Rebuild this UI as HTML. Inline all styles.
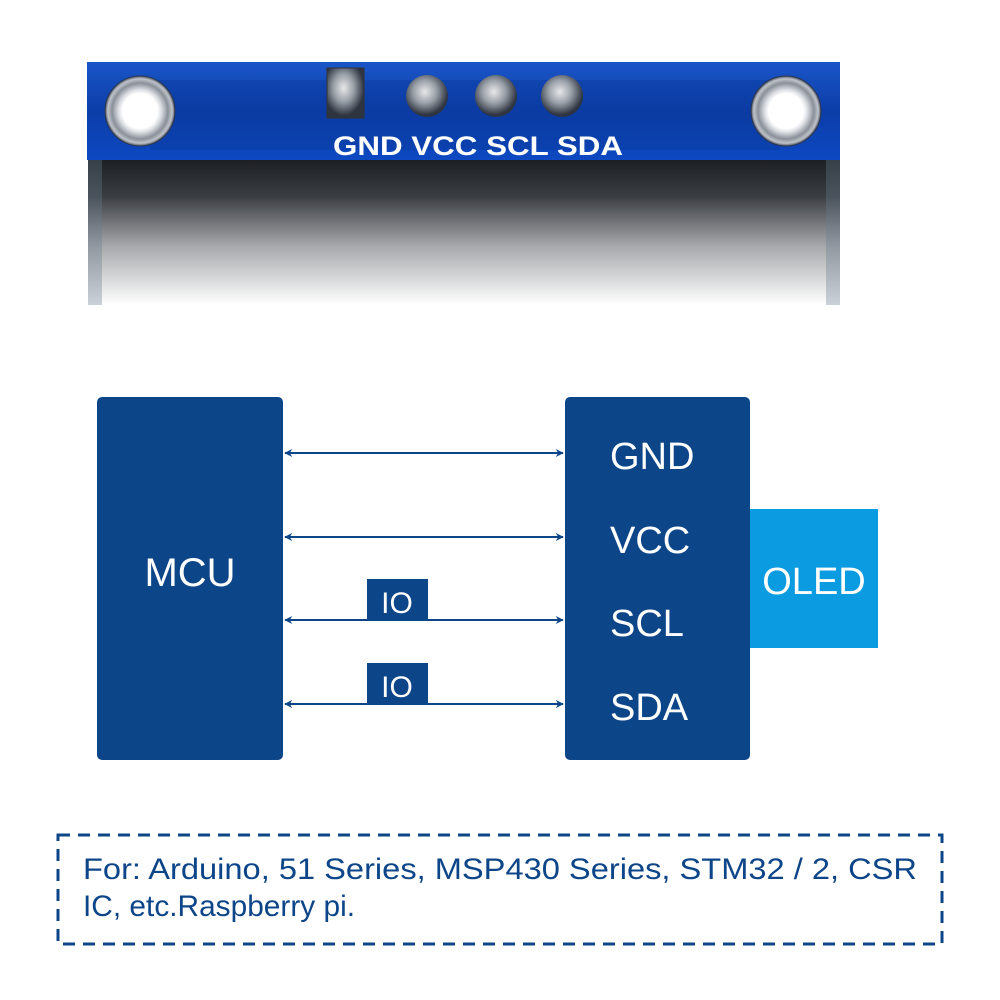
<!DOCTYPE html>
<html><head><meta charset="utf-8"><style>
html,body{margin:0;padding:0;background:#fff;}
svg{display:block;font-family:"Liberation Sans",sans-serif;}
</style></head><body>
<svg width="1000" height="1000" viewBox="0 0 1000 1000" xmlns="http://www.w3.org/2000/svg">
<defs>
<linearGradient id="scr" x1="0" y1="0" x2="0" y2="1">
<stop offset="0" stop-color="#1c1f24"/>
<stop offset="0.25" stop-color="#3a3d42"/>
<stop offset="0.6" stop-color="#a8aaad"/>
<stop offset="1" stop-color="#ffffff"/>
</linearGradient>
<linearGradient id="pcb" x1="0" y1="0" x2="0" y2="1">
<stop offset="0" stop-color="#1a56c8"/>
<stop offset="0.5" stop-color="#0c3da8"/>
<stop offset="1" stop-color="#0d49c2"/>
</linearGradient>
<radialGradient id="hole" cx="0.5" cy="0.5" r="0.5">
<stop offset="0.5" stop-color="#ffffff"/>
<stop offset="0.62" stop-color="#d8dbe0"/>
<stop offset="0.8" stop-color="#8a9099"/>
<stop offset="0.92" stop-color="#c0c4ca"/>
<stop offset="1" stop-color="#4a505c"/>
</radialGradient>
<radialGradient id="pin" cx="0.45" cy="0.4" r="0.55">
<stop offset="0" stop-color="#e8e8ea"/>
<stop offset="0.5" stop-color="#9aa0a8"/>
<stop offset="1" stop-color="#2e3440"/>
</radialGradient>
<marker id="ah" viewBox="0 0 10 10" refX="9" refY="5" markerWidth="10" markerHeight="8" markerUnits="userSpaceOnUse" orient="auto-start-reverse">
<path d="M0,0 L10,5 L0,10 L3,5 Z" fill="#0d4589"/>
</marker>
</defs>
<rect x="88" y="160" width="752" height="145" fill="url(#scr)"/>
<rect x="88" y="160" width="14" height="145" fill="#6b7a90" opacity="0.35"/>
<rect x="826" y="160" width="14" height="145" fill="#6b7a90" opacity="0.35"/>
<rect x="87" y="62" width="753" height="98" fill="url(#pcb)"/>
<rect x="150" y="80" width="630" height="70" fill="#0a3a9c" opacity="0.4"/>
<circle cx="140" cy="111" r="35" fill="url(#hole)" stroke="#2a3550" stroke-width="1"/>
<circle cx="786" cy="111" r="35" fill="url(#hole)" stroke="#2a3550" stroke-width="1"/>
<rect x="327" y="68" width="37" height="50" fill="url(#pin)" stroke="#333" stroke-width="1"/>
<circle cx="427" cy="96" r="21" fill="url(#pin)"/>
<circle cx="496" cy="96" r="21" fill="url(#pin)"/>
<circle cx="562" cy="96" r="21" fill="url(#pin)"/>
<text x="333" y="155" font-size="27" font-weight="bold" fill="#fff" textLength="290" lengthAdjust="spacingAndGlyphs">GND VCC SCL SDA</text>
<rect x="97" y="397" width="186" height="363" rx="5" fill="#0d4589"/>
<text x="190" y="586" font-size="40" fill="#fff" text-anchor="middle">MCU</text>
<rect x="565" y="397" width="185" height="363" rx="5" fill="#0d4589"/>
<text x="610" y="469" font-size="38" fill="#fff">GND</text>
<text x="610" y="553" font-size="38" fill="#fff">VCC</text>
<text x="610" y="636" font-size="38" fill="#fff">SCL</text>
<text x="610" y="720" font-size="38" fill="#fff">SDA</text>
<rect x="750" y="509" width="128" height="139" fill="#0a9be0"/>
<text x="814" y="594" font-size="38" fill="#fff" text-anchor="middle">OLED</text>
<g stroke="#0d4589" stroke-width="2" marker-start="url(#ah)" marker-end="url(#ah)">
<line x1="285" y1="453" x2="563" y2="453"/>
<line x1="285" y1="537" x2="563" y2="537"/>
<line x1="285" y1="620" x2="563" y2="620"/>
<line x1="285" y1="704" x2="563" y2="704"/>
</g>
<rect x="367" y="579" width="61" height="41" fill="#0d4589"/>
<text x="397" y="613" font-size="30" fill="#fff" text-anchor="middle">IO</text>
<rect x="367" y="663" width="61" height="41" fill="#0d4589"/>
<text x="397" y="697" font-size="30" fill="#fff" text-anchor="middle">IO</text>
<rect x="58" y="835" width="884" height="109" fill="none" stroke="#0d4589" stroke-width="3" stroke-dasharray="12,8"/>
<text x="83" y="879" font-size="30" fill="#0d4589" textLength="834" lengthAdjust="spacingAndGlyphs">For: Arduino, 51 Series, MSP430 Series, STM32 / 2, CSR</text>
<text x="83" y="916" font-size="30" fill="#0d4589" textLength="272" lengthAdjust="spacingAndGlyphs">IC, etc.Raspberry pi.</text>
</svg>
</body></html>
